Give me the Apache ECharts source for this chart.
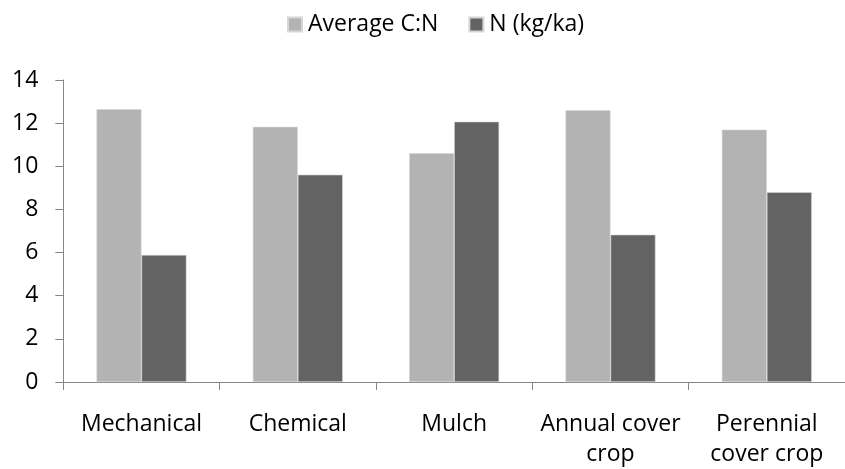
<!DOCTYPE html>
<html>
<head>
<meta charset="utf-8">
<script src="https://cdn.jsdelivr.net/npm/echarts@6/dist/echarts.min.js"></script>
<style>html,body{margin:0;padding:0;background:#fff;}#c{width:845px;height:469px;}</style>
</head>
<body>
<div id="c"></div>
<script>
const categories = ["Mechanical", "Chemical", "Mulch", "Annual cover\ncrop", "Perennial\ncover crop"];
const seriesNames = ["Average C:N", "N (kg/ka)"];
const avgCN = [12.65, 11.83, 10.61, 12.6, 11.7];
const nKgKa = [5.89, 9.61, 12.07, 6.83, 8.8];
const yTicks = { min: 0, max: 14, interval: 2 };

const FONT = "Open Sans";
const chart = echarts.init(document.getElementById('c'), null, {renderer: 'canvas'});
chart.setOption({
  animation: false,
  textStyle: { fontFamily: FONT },
  legend: {
    data: seriesNames,
    left: 282, top: 8,
    icon: 'rect', itemWidth: 14, itemHeight: 14, itemGap: 30,
    textStyle: { fontFamily: FONT, fontSize: 23, color: '#000', padding: [0,0,0,1] }
  },
  grid: { left: 63.3, right: -10.3, top: 80, bottom: 85, containLabel: false },
  xAxis: {
    type: 'category', data: categories,
    axisLine: { lineStyle: { color: '#868686', width: 1 } },
    axisTick: { show: true, length: 8, lineStyle: { color: '#868686' } },
    axisLabel: { color: '#000', fontFamily: FONT, fontSize: 23, lineHeight: 30, margin: 27, interval: 0 }
  },
  yAxis: {
    type: 'value', min: yTicks.min, max: yTicks.max, interval: yTicks.interval,
    splitLine: { show: false },
    axisLine: { show: true, lineStyle: { color: '#868686', width: 1 } },
    axisTick: { show: true, length: 8, lineStyle: { color: '#868686' } },
    axisLabel: { color: '#000', fontFamily: FONT, fontSize: 23, margin: 25 }
  },
  series: [
    { name: seriesNames[0], type: 'bar', data: avgCN, barWidth: 45, barGap: '0%',
      itemStyle: { color: '#b3b3b3', borderColor: '#d6d6d6', borderWidth: 0.6 } },
    { name: seriesNames[1], type: 'bar', data: nKgKa, barWidth: 45, barGap: '0%',
      itemStyle: { color: '#636363', borderColor: '#d6d6d6', borderWidth: 0.6 } }
  ]
});
</script>
</body>
</html>
